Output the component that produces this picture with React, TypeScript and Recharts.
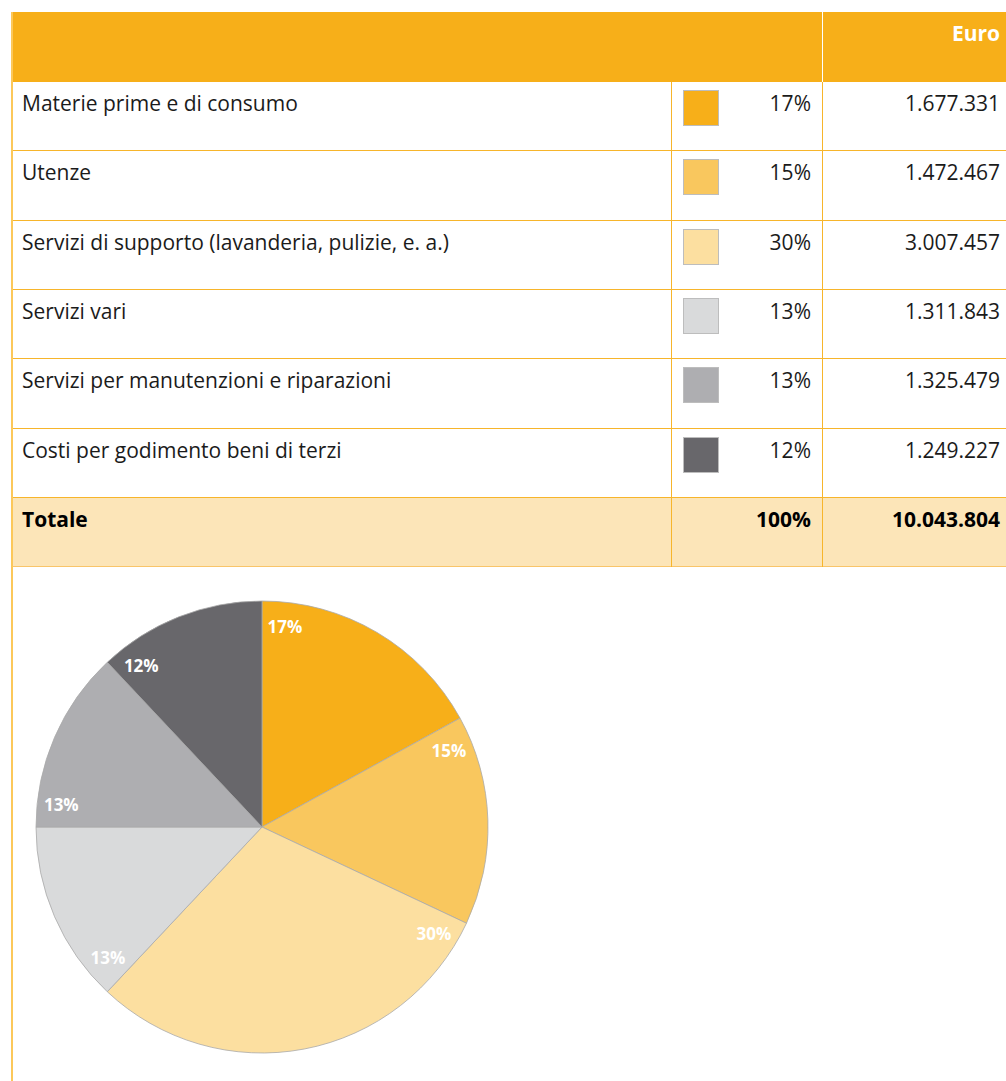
import React from "react";
import { PieChart, Pie, Cell } from "recharts";

const categories = [
  "Materie prime e di consumo",
  "Utenze",
  "Servizi di supporto (lavanderia, pulizie, e. a.)",
  "Servizi vari",
  "Servizi per manutenzioni e riparazioni",
  "Costi per godimento beni di terzi",
];
const shares = [17, 15, 30, 13, 13, 12];
const amounts = [1677331, 1472467, 3007457, 1311843, 1325479, 1249227];
const totalLabel = "Totale";
const totalShare = 100;
const totalAmount = 10043804;
const colors = ["#F7AF19", "#F9C75E", "#FCDFA0", "#D9DADB", "#AEAEB1", "#68676B"];

const ORANGE = "#F7AF19";
const LINE = "#F7B52B";
const FONT = "'Open Sans', sans-serif";
const ROW_H = 69.3;

function fmt(n: number): string {
  return String(n).replace(/\B(?=(\d{3})+(?!\d))/g, ".");
}

const pieData = categories.map((name, i) => ({ name, share: shares[i], amount: amounts[i] }));

const RAD = Math.PI / 180;

function renderLabel(props: any) {
  const { cx, cy, startAngle, outerRadius, index } = props;
  const a = startAngle - 6.5;
  const r = outerRadius - 24;
  const x = cx + r * Math.cos(-a * RAD);
  const y = cy + r * Math.sin(-a * RAD);
  return (
    <text
      x={x}
      y={y}
      fill="#fff"
      fontFamily={FONT}
      fontWeight={700}
      fontSize={17}
      textAnchor="middle"
      dominantBaseline="central"
    >
      {`${pieData[index].share}%`}
    </text>
  );
}

export default function App() {
  const rows = categories.map((c, i) => ({ label: c, share: shares[i], amount: amounts[i], color: colors[i] }));
  const cellText: React.CSSProperties = {
    position: "absolute",
    top: 7,
    fontSize: 21,
    lineHeight: "28px",
    color: "#1b1b1b",
  };
  return (
    <div
      style={{
        position: "absolute",
        left: 0,
        top: 0,
        width: 1006,
        height: 1081,
        overflow: "hidden",
        background: "#fff",
        fontFamily: FONT,
      }}
    >
      {/* header */}
      <div style={{ position: "absolute", left: 11, top: 12, width: 995, height: 70, background: ORANGE }}>
        <div style={{ position: "absolute", left: 811, top: 0, width: 1, height: 70, background: "#fff" }} />
        <div
          style={{
            position: "absolute",
            right: 6,
            top: 7,
            color: "#fff",
            fontWeight: 700,
            fontSize: 21,
            lineHeight: "28px",
          }}
        >
          Euro
        </div>
      </div>
      {rows.map((r, i) => {
        const top = 82 + Math.round(i * ROW_H);
        const h = Math.round((i + 1) * ROW_H) - Math.round(i * ROW_H);
        return (
          <div key={r.label} style={{ position: "absolute", left: 11, top, width: 995, height: h }}>
            <div style={{ ...cellText, left: 11 }}>{r.label}</div>
            <div
              style={{
                position: "absolute",
                left: 672,
                top: 8,
                width: 36,
                height: 36,
                background: r.color,
                border: "1px solid #BDBDBD",
                boxSizing: "border-box",
              }}
            />
            <div style={{ ...cellText, right: 995 - 800 }}>{r.share}%</div>
            <div style={{ ...cellText, right: 6 }}>{fmt(r.amount)}</div>
            <div style={{ position: "absolute", left: 0, top: h - 1, width: 995, height: 1, background: LINE }} />
          </div>
        );
      })}
      {/* total row */}
      <div
        style={{
          position: "absolute",
          left: 11,
          top: 82 + Math.round(6 * ROW_H),
          width: 995,
          height: 69,
          background: "#FCE5B8",
        }}
      >
        <div style={{ ...cellText, left: 11, fontWeight: 700, color: "#000" }}>{totalLabel}</div>
        <div style={{ ...cellText, right: 995 - 800, fontWeight: 700, color: "#000" }}>{totalShare}%</div>
        <div style={{ ...cellText, right: 6, fontWeight: 700, color: "#000" }}>{fmt(totalAmount)}</div>
        <div style={{ position: "absolute", left: 0, top: 68, width: 995, height: 1, background: "#F9C56A" }} />
      </div>
      {/* column dividers */}
      <div style={{ position: "absolute", left: 671, top: 82, width: 1, height: 485, background: LINE }} />
      <div style={{ position: "absolute", left: 822, top: 82, width: 1, height: 485, background: LINE }} />
      {/* left border running down the page */}
      <div style={{ position: "absolute", left: 11, top: 12, width: 2, height: 1069, background: "#FCC85A" }} />

      <div style={{ position: "absolute", left: 7, top: 572 }}>
        <PieChart width={510} height={510}>
          <Pie
            data={pieData}
            dataKey="share"
            nameKey="name"
            cx={250}
            cy={250}
            outerRadius={226}
            startAngle={90}
            endAngle={-270}
            stroke="#A9A9A9"
            strokeWidth={0.8}
            label={renderLabel}
            labelLine={false}
            isAnimationActive={false}
          >
            {pieData.map((d, i) => (
              <Cell key={d.name} fill={colors[i]} />
            ))}
          </Pie>
        </PieChart>
      </div>
    </div>
  );
}
